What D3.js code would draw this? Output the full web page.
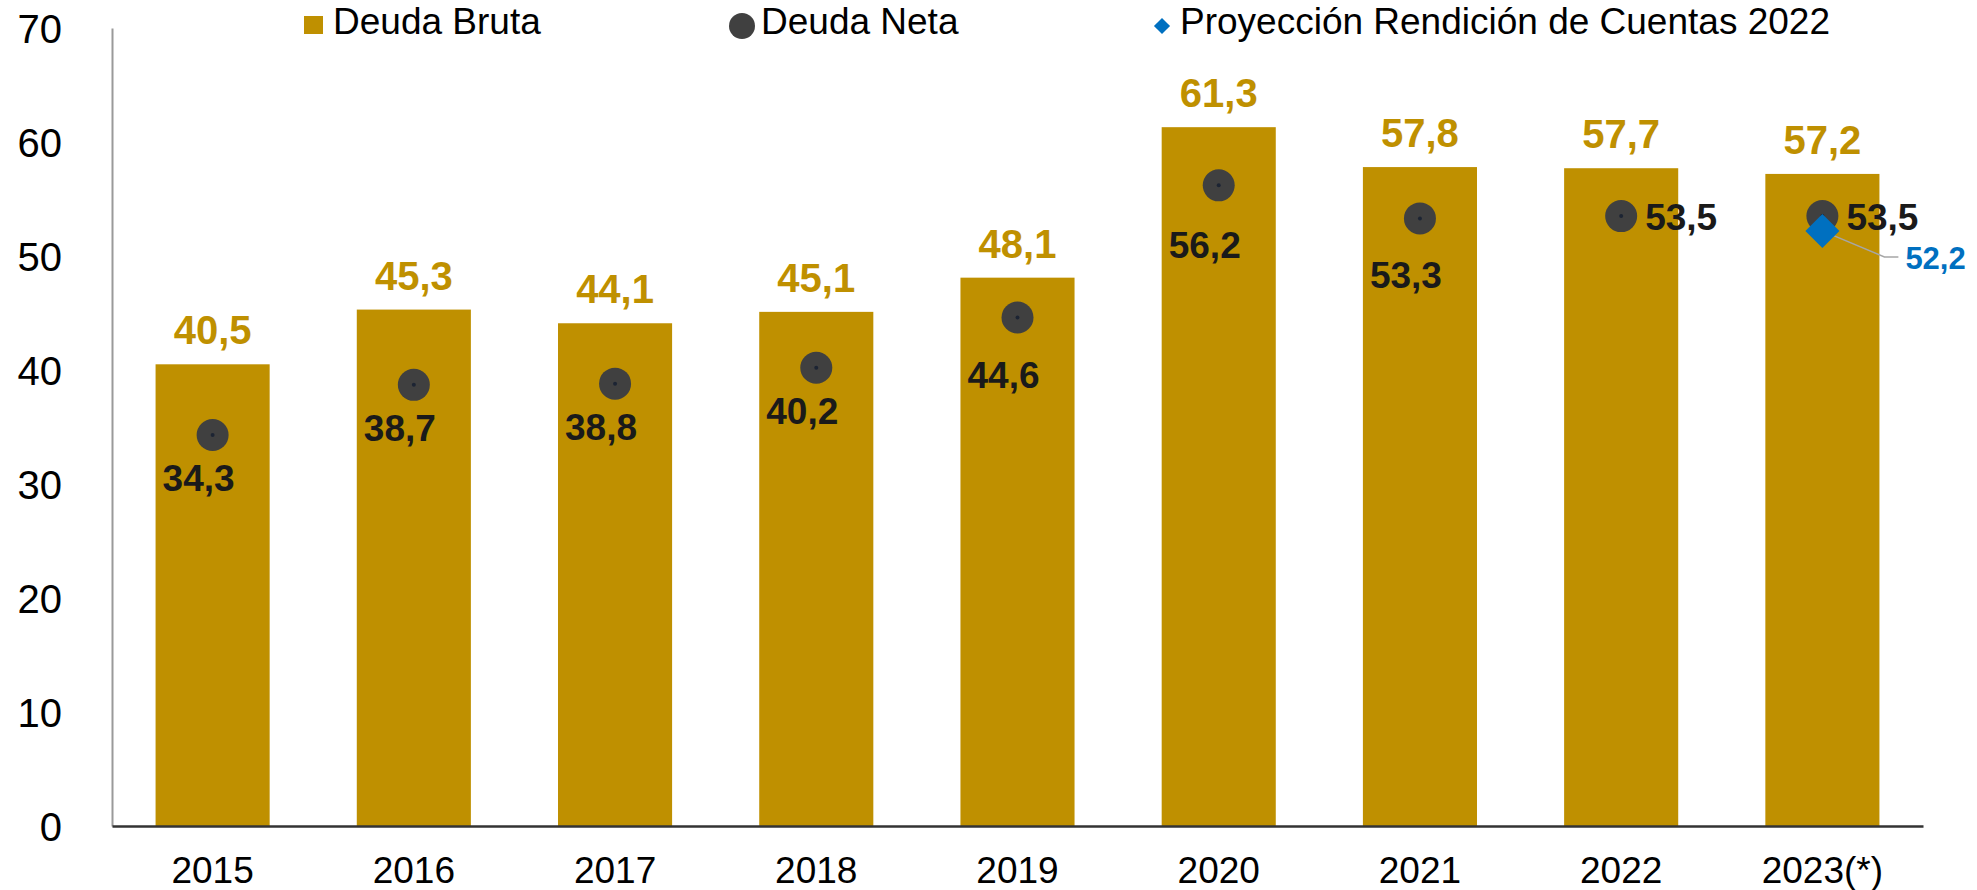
<!DOCTYPE html>
<html>
<head>
<meta charset="utf-8">
<script src="https://cdn.jsdelivr.net/npm/d3@7"></script>
<style>
	body { margin: 0; background: #fff; }
	text { font-family: "Liberation Sans", Arial, sans-serif; }
</style>
</head>
<body>
<div id="chart"></div>
<script>
// data
var years = ["2015", "2016", "2017", "2018", "2019", "2020", "2021", "2022", "2023(*)"];
var deudaBruta = [40.5, 45.3, 44.1, 45.1, 48.1, 61.3, 57.8, 57.7, 57.2];
var deudaNeta = [34.3, 38.7, 38.8, 40.2, 44.6, 56.2, 53.3, 53.5, 53.5];
var proyeccion = [null, null, null, null, null, null, null, null, 52.2];
var yTicks = [0, 10, 20, 30, 40, 50, 60, 70];
var legendNames = ["Deuda Bruta", "Deuda Neta", "Proyección Rendición de Cuentas 2022"];

// label placement for the net debt points (layout only)
var netLabelPos = ["below", "below", "below", "below", "below", "below", "below", "right", "right"];
var netLabelDy = [56, 56, 56, 56, 70, 73, 70, 14, 14];

var svg_width = 1977;
var svg_height = 890;

var gold = "#BF9000";
var dotColor = "#404040";
var blue = "#0070C0";

var fmt = function(v) { return d3.format(".1f")(v).replace(".", ","); };

var svg = d3.select("#chart")
	.append("svg")
	.attr("width", svg_width)
	.attr("height", svg_height);

// scales
var x = d3.scaleBand()
	.domain(years)
	.range([112, 1923])
	.paddingInner(0.433)
	.paddingOuter(0.2165);

var y = d3.scaleLinear()
	.domain([0, 70])
	.range([826, 28]);

var cx = function(i) { return x(years[i]) + x.bandwidth() / 2; };

// bars
svg.selectAll("rect.bar")
	.data(deudaBruta)
	.enter()
	.append("rect")
	.attr("class", "bar")
	.attr("x", function(d, i) { return x(years[i]); })
	.attr("y", function(d) { return y(d); })
	.attr("width", x.bandwidth())
	.attr("height", function(d) { return y(0) - y(d); })
	.style("fill", gold);

// y axis
var yAxis = svg.append("g")
	.attr("transform", "translate(112,0)")
	.call(d3.axisLeft(y).tickValues(yTicks).tickSize(0).tickSizeOuter(0).tickPadding(50));
yAxis.select(".domain").style("stroke", "#9a9a9a").style("stroke-width", 2);
yAxis.selectAll("text")
	.style("font-size", "40px")
	.style("fill", "#000")
	.attr("dy", "0.35em");

// x axis
var xAxis = svg.append("g")
	.attr("transform", "translate(0," + y(0) + ")")
	.call(d3.axisBottom(x).tickSize(0).tickSizeOuter(0));
xAxis.select(".domain").style("stroke", "#333").style("stroke-width", 2.5);
xAxis.selectAll("text")
	.attr("y", 57)
	.attr("dy", 0)
	.style("font-size", "37px")
	.style("fill", "#000");

// bar labels
svg.selectAll("text.bruta")
	.data(deudaBruta)
	.enter()
	.append("text")
	.attr("class", "bruta")
	.attr("x", function(d, i) { return cx(i); })
	.attr("y", function(d) { return y(d) - 20; })
	.attr("text-anchor", "middle")
	.style("font-size", "40px")
	.style("font-weight", "bold")
	.style("fill", gold)
	.text(fmt);

// net debt dots
svg.selectAll("circle.neta")
	.data(deudaNeta)
	.enter()
	.append("circle")
	.attr("class", "neta")
	.attr("cx", function(d, i) { return cx(i); })
	.attr("cy", function(d) { return y(d); })
	.attr("r", 16)
	.style("fill", dotColor);

svg.selectAll("circle.netaCore")
	.data(deudaNeta)
	.enter()
	.append("circle")
	.attr("class", "netaCore")
	.attr("cx", function(d, i) { return cx(i); })
	.attr("cy", function(d) { return y(d); })
	.attr("r", 2)
	.style("fill", "#1c2433");

svg.selectAll("text.neta")
	.data(deudaNeta)
	.enter()
	.append("text")
	.attr("class", "neta")
	.attr("x", function(d, i) { return netLabelPos[i] == "right" ? cx(i) + 24 : cx(i) - 14; })
	.attr("y", function(d, i) { return y(d) + netLabelDy[i]; })
	.attr("text-anchor", function(d, i) { return netLabelPos[i] == "right" ? "start" : "middle"; })
	.style("font-size", "37px")
	.style("font-weight", "bold")
	.style("fill", "#1a1a1a")
	.text(fmt);

// projection point
var projData = proyeccion
	.map(function(d, i) { return {v: d, i: i}; })
	.filter(function(d) { return d.v != null; });

var diamond = d3.symbol().type(d3.symbolSquare).size(580);

svg.selectAll("polyline.leader")
	.data(projData)
	.enter()
	.append("polyline")
	.attr("class", "leader")
	.attr("points", function(d) {
		var px = cx(d.i), py = y(d.v);
		return px + "," + py + " " + (px + 62) + "," + (py + 26) + " " + (px + 76) + "," + (py + 26);
	})
	.style("fill", "none")
	.style("stroke", "#a6a6a6")
	.style("stroke-width", 1.5);

svg.selectAll("path.proy")
	.data(projData)
	.enter()
	.append("path")
	.attr("class", "proy")
	.attr("d", diamond)
	.attr("transform", function(d) { return "translate(" + cx(d.i) + "," + y(d.v) + ") rotate(45)"; })
	.style("fill", blue);

svg.selectAll("text.proy")
	.data(projData)
	.enter()
	.append("text")
	.attr("class", "proy")
	.attr("x", function(d) { return cx(d.i) + 83; })
	.attr("y", function(d) { return y(d.v) + 38; })
	.style("font-size", "31px")
	.style("font-weight", "bold")
	.style("fill", blue)
	.text(function(d) { return fmt(d.v); });

// legend
var legend = svg.append("g").attr("class", "legend");

legend.append("rect")
	.attr("x", 304).attr("y", 16)
	.attr("width", 19).attr("height", 18)
	.style("fill", gold);
legend.append("circle")
	.attr("cx", 742).attr("cy", 26).attr("r", 13)
	.style("fill", dotColor);
legend.append("path")
	.attr("d", d3.symbol().type(d3.symbolSquare).size(130))
	.attr("transform", "translate(1162,26) rotate(45)")
	.style("fill", blue);

var legendX = [333, 761, 1180];
legend.selectAll("text")
	.data(legendNames)
	.enter()
	.append("text")
	.attr("x", function(d, i) { return legendX[i]; })
	.attr("y", 34)
	.style("font-size", "37px")
	.style("fill", "#000")
	.text(function(d) { return d; });
</script>
</body>
</html>
